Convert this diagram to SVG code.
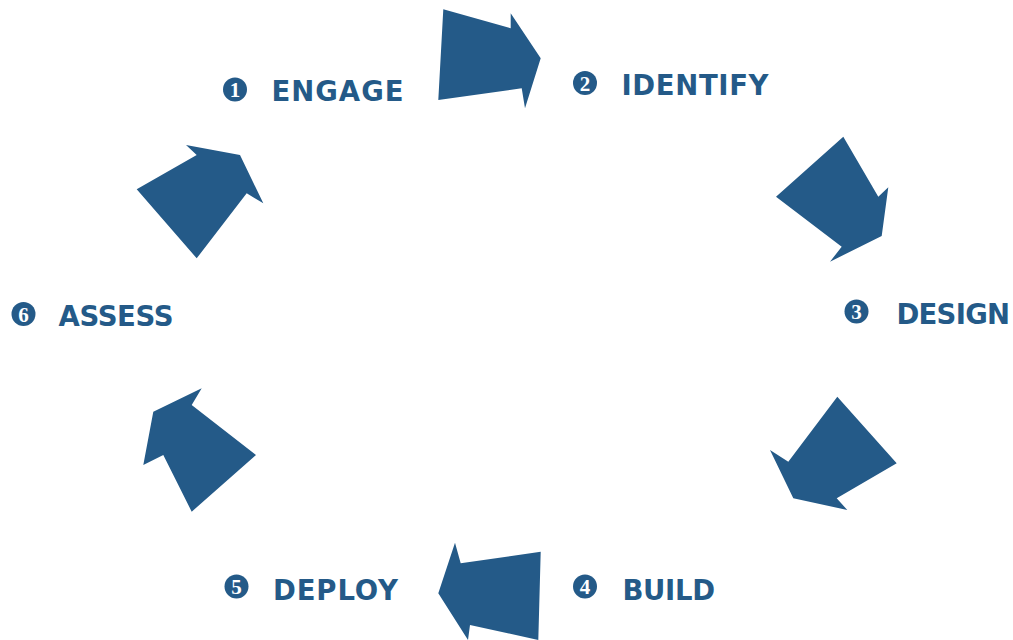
<svg xmlns="http://www.w3.org/2000/svg" width="1013" height="640" viewBox="0 0 1013 640">
<style>
.arr{fill:#245a88;}
.num{fill:#245a88;}
.d{fill:#ffffff;font-family:"Liberation Serif",serif;font-weight:bold;font-size:21px;text-anchor:middle;}
.lbl{fill:#245a88;font-family:"DejaVu Sans","Liberation Sans",sans-serif;font-weight:bold;font-size:27.5px;}
</style>
<rect width="1013" height="640" fill="#ffffff"/>
<g id="connectors">
<polygon class="arr" points="443.3,9.3 510.7,28.3 510.7,13.3 540.7,58.3 525,108.3 521.7,88.3 438.3,100"/>
<polygon class="arr" points="843.3,136.7 878.3,196.7 888.3,187.3 881.7,236 830,261.7 841.7,246.7 776,196.7"/>
<polygon class="arr" points="837.3,396.7 896.7,463.3 836.7,498.3 847.3,510 793.3,498.3 770,450 788.3,461.7"/>
<polygon class="arr" points="455,542.7 460.7,563.3 540.7,551.7 538.3,640 470,625 468,640 438.3,593.3"/>
<polygon class="arr" points="201.7,388.3 191.7,405 256,455 191.7,511.7 163.3,455 143.3,465 153.3,411.7"/>
<polygon class="arr" points="136.7,189.3 196.7,155 186,145 240,155 263.3,203.3 246.7,193.3 196.7,258.3"/>
</g>
<g id="n1">
<circle class="num" cx="235" cy="89.5" r="12"/>
<text class="d" x="235" y="97">1</text>
<text class="lbl" x="271.5" y="100.5" textLength="132" lengthAdjust="spacing">ENGAGE</text>
</g>
<g id="n2">
<circle class="num" cx="585" cy="83" r="12"/>
<text class="d" x="585" y="90.5">2</text>
<text class="lbl" x="621.5" y="94.5" textLength="147" lengthAdjust="spacing">IDENTIFY</text>
</g>
<g id="n3">
<circle class="num" cx="856.5" cy="311.5" r="12"/>
<text class="d" x="856.5" y="319">3</text>
<text class="lbl" x="896.5" y="324" textLength="113.5" lengthAdjust="spacing">DESIGN</text>
</g>
<g id="n4">
<circle class="num" cx="585" cy="586.5" r="12"/>
<text class="d" x="585" y="594">4</text>
<text class="lbl" x="622.5" y="600" textLength="92.5" lengthAdjust="spacing">BUILD</text>
</g>
<g id="n5">
<circle class="num" cx="236.5" cy="586.5" r="12"/>
<text class="d" x="236.5" y="594">5</text>
<text class="lbl" x="273" y="600" textLength="125" lengthAdjust="spacing">DEPLOY</text>
</g>
<g id="n6">
<circle class="num" cx="23.5" cy="314" r="12"/>
<text class="d" x="23.5" y="321.5">6</text>
<text class="lbl" x="58.5" y="326" textLength="115" lengthAdjust="spacing">ASSESS</text>
</g>
</svg>
